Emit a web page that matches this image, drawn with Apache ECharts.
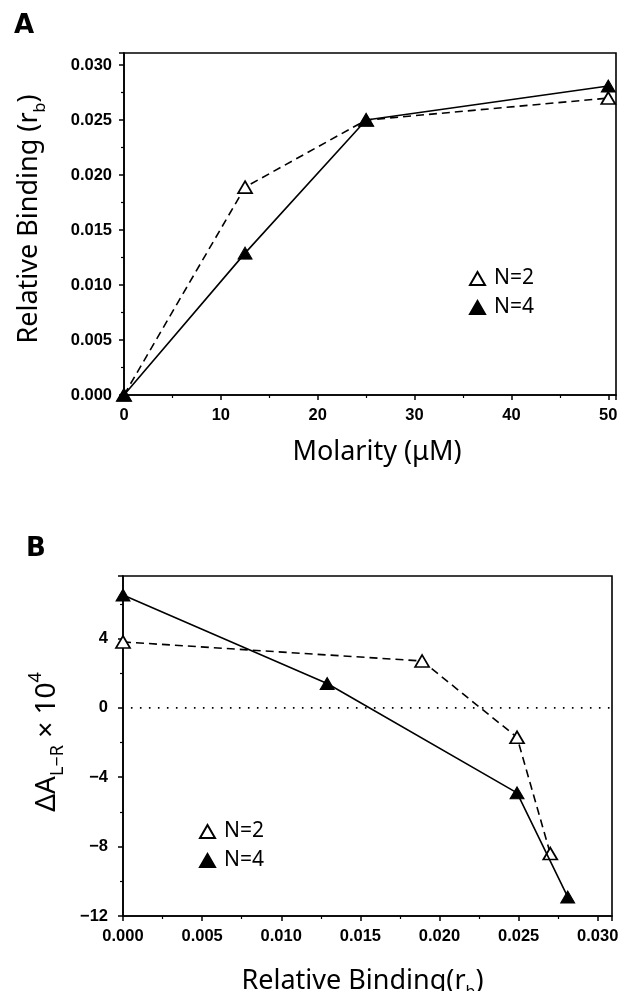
<!DOCTYPE html>
<html><head><meta charset="utf-8">
<script src="https://cdn.jsdelivr.net/npm/echarts/dist/echarts.min.js"></script>
<style>html,body{margin:0;padding:0;background:#fff}#c{width:619px;height:991px}</style>
</head><body><div id="c"></div>
<script>
// Panel A: relative binding vs molarity
const molarity = [0, 12.5, 25, 50];
const bindingN2 = [0, 0.0189, 0.0250, 0.0270];
const bindingN4 = [0, 0.0129, 0.0250, 0.0281];
// Panel B: delta A (x10^4) vs relative binding
const rbN2 = [0, 0.0189, 0.0249, 0.0270];
const dAN2 = [3.8, 2.7, -1.7, -8.4];
const rbN4 = [0, 0.0129, 0.0249, 0.0281];
const dAN4 = [6.5, 1.4, -4.9, -10.9];
// dotted zero reference line in panel B
const zeroLineX = [0.0005, 0.0309];
const zeroLineY = [0, 0];
const seriesNames = ['N=2', 'N=4'];
// tick labels
const xTickValsA = [0, 10, 20, 30, 40, 50];
const xTickLabsA = ['0', '10', '20', '30', '40', '50'];
const yTickValsA = [0, 0.005, 0.010, 0.015, 0.020, 0.025, 0.030];
const yTickLabsA = ['0.000', '0.005', '0.010', '0.015', '0.020', '0.025', '0.030'];
const xTickValsB = [0, 0.005, 0.010, 0.015, 0.020, 0.025, 0.030];
const xTickLabsB = ['0.000', '0.005', '0.010', '0.015', '0.020', '0.025', '0.030'];
const yTickValsB = [-12, -8, -4, 0, 4];
const yTickLabsB = ['\u221212', '\u22128', '\u22124', '0', '4'];

function fmt(vals, labs) {
  return function (v) {
    for (let i = 0; i < vals.length; i++) {
      if (Math.abs(vals[i] - v) < 1e-9) return labs[i];
    }
    return '';
  };
}
const zip = (a, b) => a.map((x, i) => [x, b[i]]);

const TITLE_FONT = 'Noto Sans';
const TICK_FONT = 'Liberation Sans';
const tickLabel = { color: '#000', fontFamily: TICK_FONT, fontWeight: 'bold', fontSize: 16.5 };
const axLine = { show: true, onZero: false, lineStyle: { color: '#000', width: 1.6 } };
const axTick = { show: true, inside: false, length: 5, lineStyle: { color: '#000', width: 1.5 } };
const minTick = { show: true, splitNumber: 2, length: 3, lineStyle: { color: '#000', width: 1.2 } };

const openItem = { color: '#fff', borderColor: '#000', borderWidth: 1.7 };
const fillItem = { color: '#000', borderColor: '#000', borderWidth: 1 };

const chart = echarts.init(document.getElementById('c'), null, { renderer: 'canvas' });
chart.setOption({
  backgroundColor: '#fff',
  animation: false,
  title: [
    { text: 'A', left: 9, top: 8, textStyle: { fontFamily: 'DejaVu Sans', fontWeight: 'bold', fontSize: 26, color: '#000' } },
    { text: 'B', left: 21, top: 531, textStyle: { fontFamily: 'DejaVu Sans', fontWeight: 'bold', fontSize: 26, color: '#000' } }
  ],
  grid: [
    { left: 124, top: 53, width: 492, height: 342, show: true, borderColor: '#000', borderWidth: 1.6, backgroundColor: 'transparent', outerBoundsMode: 'none' },
    { left: 123, top: 576, width: 489, height: 340, show: true, borderColor: '#000', borderWidth: 1.6, backgroundColor: 'transparent', outerBoundsMode: 'none' }
  ],
  legend: [
    { data: seriesNames, orient: 'vertical', left: 464, top: 263, icon: 'triangle', itemWidth: 15, itemHeight: 13, itemGap: 8,
      textStyle: { fontFamily: TITLE_FONT, fontSize: 21, color: '#000', padding: [0, 0, 0, 4] }, selectedMode: false },
    { data: seriesNames, orient: 'vertical', left: 194, top: 816, icon: 'triangle', itemWidth: 15, itemHeight: 13, itemGap: 8,
      textStyle: { fontFamily: TITLE_FONT, fontSize: 21, color: '#000', padding: [0, 0, 0, 4] }, selectedMode: false }
  ],
  xAxis: [
    { gridIndex: 0, type: 'value', min: 0, max: 50.8, interval: 10,
      axisLine: axLine, axisTick: axTick, minorTick: minTick, splitLine: { show: false },
      axisLabel: Object.assign({ margin: 12, showMaxLabel: false, formatter: fmt(xTickValsA, xTickLabsA) }, tickLabel),
      name: 'Molarity (\u03bcM)', nameLocation: 'middle', nameGap: 44,
      nameTextStyle: { fontFamily: TITLE_FONT, fontSize: 27, color: '#000', padding: [0, 0, 0, 14] } },
    { gridIndex: 1, type: 'value', min: 0, max: 0.0309, interval: 0.005,
      axisLine: axLine, axisTick: axTick, minorTick: minTick, splitLine: { show: false },
      axisLabel: Object.assign({ margin: 12, showMaxLabel: false, formatter: fmt(xTickValsB, xTickLabsB) }, tickLabel),
      name: '{t|Relative Binding(r}{s|b}{t|)}', nameLocation: 'middle', nameGap: 46,
      nameTextStyle: { padding: [0, 10, 0, 0], rich: {
        t: { fontFamily: TITLE_FONT, fontSize: 27, color: '#000', lineHeight: 38 },
        s: { fontFamily: TITLE_FONT, fontSize: 16, color: '#000', lineHeight: 16, verticalAlign: 'bottom' } } } },
  ],
  yAxis: [
    { gridIndex: 0, type: 'value', min: 0, max: 0.0311, interval: 0.005,
      axisLine: axLine, axisTick: axTick, minorTick: minTick, splitLine: { show: false },
      axisLabel: Object.assign({ margin: 12, showMaxLabel: false, formatter: fmt(yTickValsA, yTickLabsA) }, tickLabel),
      name: '{t|Relative Binding (r}{s|b}{t|)}', nameLocation: 'middle', nameGap: 76, nameRotate: 90,
      nameTextStyle: { padding: [0, 0, 0, 10], rich: {
        t: { fontFamily: TITLE_FONT, fontSize: 27, color: '#000', lineHeight: 38 },
        s: { fontFamily: TITLE_FONT, fontSize: 16, color: '#000', lineHeight: 16, verticalAlign: 'bottom' } } } },
    { gridIndex: 1, type: 'value', min: -12, max: 7.6, interval: 4,
      axisLine: axLine, axisTick: axTick, minorTick: minTick, splitLine: { show: false },
      axisLabel: Object.assign({ margin: 15, showMaxLabel: false, formatter: fmt(yTickValsB, yTickLabsB) }, tickLabel),
      name: '{t|\u0394A}{s|L\u2212R}{t| \u00d7 10}{p|4}', nameLocation: 'middle', nameGap: 56, nameRotate: 90,
      nameTextStyle: { padding: [0, 0, 0, 8], rich: {
        t: { fontFamily: TITLE_FONT, fontSize: 28, color: '#000', lineHeight: 40 },
        s: { fontFamily: TITLE_FONT, fontSize: 18, color: '#000', lineHeight: 18, verticalAlign: 'bottom' },
        p: { fontFamily: TITLE_FONT, fontSize: 18, color: '#000', lineHeight: 18, verticalAlign: 'top' } } } }
  ],
  series: [
    { name: 'zero', type: 'line', xAxisIndex: 1, yAxisIndex: 1, data: zip(zeroLineX, zeroLineY),
      symbol: 'none', silent: true, z: 1,
      lineStyle: { color: '#000', width: 1.6, type: [1.6, 7.4] } },
    { name: seriesNames[0], type: 'line', xAxisIndex: 0, yAxisIndex: 0, data: zip(molarity, bindingN2),
      symbol: 'triangle', symbolSize: [14, 12], itemStyle: openItem,
      lineStyle: { color: '#000', width: 1.6, type: [8, 5] }, z: 3 },
    { name: seriesNames[1], type: 'line', xAxisIndex: 0, yAxisIndex: 0, data: zip(molarity, bindingN4),
      symbol: 'triangle', symbolSize: [14, 12], itemStyle: fillItem,
      lineStyle: { color: '#000', width: 1.6, type: 'solid' }, z: 4 },
    { name: seriesNames[0], type: 'line', xAxisIndex: 1, yAxisIndex: 1, data: zip(rbN2, dAN2),
      symbol: 'triangle', symbolSize: [14, 12], itemStyle: openItem,
      lineStyle: { color: '#000', width: 1.6, type: [8, 5] }, z: 3 },
    { name: seriesNames[1], type: 'line', xAxisIndex: 1, yAxisIndex: 1, data: zip(rbN4, dAN4),
      symbol: 'triangle', symbolSize: [14, 12], itemStyle: fillItem,
      lineStyle: { color: '#000', width: 1.6, type: 'solid' }, z: 4 }
  ]
});
</script></body></html>
